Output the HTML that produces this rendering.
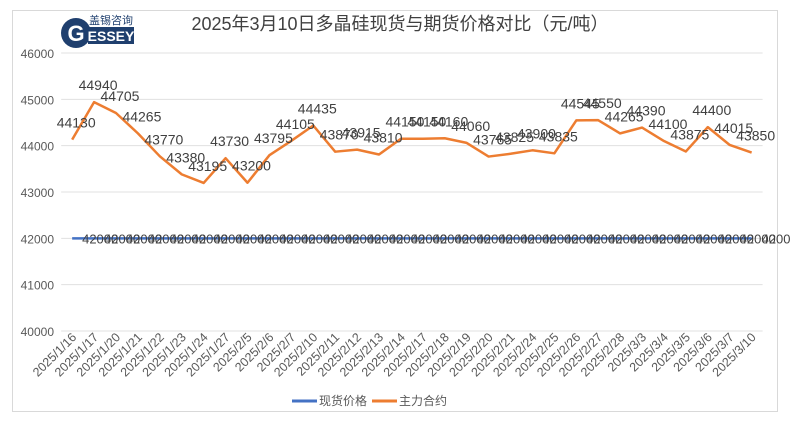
<!DOCTYPE html>
<html><head><meta charset="utf-8"><style>
body{margin:0;background:#fff;}
svg text{font-family:"Liberation Sans","Noto Sans CJK SC",sans-serif;}
</style></head><body>
<svg id="c" width="790" height="427">
<rect x="12.5" y="10.5" width="765" height="401" fill="#fff" stroke="#d9d9d9"/>
<g>
<circle cx="76" cy="33" r="15" fill="#1f3f6e"/>
<text x="76" y="41" font-size="22" font-weight="bold" fill="#fff" text-anchor="middle">G</text>
<rect x="88" y="27" width="46" height="17" fill="#1f3f6e"/>
<text x="111" y="41" font-size="14" font-weight="bold" fill="#fff" text-anchor="middle">ESSEY</text>
<text x="111" y="24" font-size="11" fill="#1f3f6e" text-anchor="middle">盖锡咨询</text>
</g>
<text x="400" y="30" font-size="18" fill="#404040" text-anchor="middle">2025年3月10日多晶硅现货与期货价格对比（元/吨）</text>
<g id="grid"></g><g id="series"></g><g id="labels"></g><g id="xaxis"></g>
<g>
<line x1="292" y1="401" x2="317" y2="401" stroke="#4472c4" stroke-width="3"/>
<text x="319" y="405" font-size="12" fill="#595959">现货价格</text>
<line x1="372" y1="401" x2="397" y2="401" stroke="#ed7d31" stroke-width="3"/>
<text x="399" y="405" font-size="12" fill="#595959">主力合约</text>
</g>
</svg>
<script>
const categories=["2025/1/16","2025/1/17","2025/1/20","2025/1/21","2025/1/22","2025/1/23","2025/1/24","2025/1/27","2025/2/5","2025/2/6","2025/2/7","2025/2/10","2025/2/11","2025/2/12","2025/2/13","2025/2/14","2025/2/17","2025/2/18","2025/2/19","2025/2/20","2025/2/21","2025/2/24","2025/2/25","2025/2/26","2025/2/27","2025/2/28","2025/3/3","2025/3/4","2025/3/5","2025/3/6","2025/3/7","2025/3/10"];
const futures=[44130,44940,44705,44265,43770,43380,43195,43730,43200,43795,44105,44435,43870,43915,43810,44150,44150,44160,44060,43765,43825,43900,43835,44545,44550,44265,44390,44100,43875,44400,44015,43850];
const spot=[42000,42000,42000,42000,42000,42000,42000,42000,42000,42000,42000,42000,42000,42000,42000,42000,42000,42000,42000,42000,42000,42000,42000,42000,42000,42000,42000,42000,42000,42000,42000,42000];
const yTicks=[40000,41000,42000,43000,44000,45000,46000];
const NS="http://www.w3.org/2000/svg";
const L=61.2,R=762.6,yMin=40000,yMax=46000,yTop=53,yBot=331;
const step=(R-L)/categories.length;
const x=i=>L+step*(i+0.5);
const y=v=>yBot-(v-yMin)/(yMax-yMin)*(yBot-yTop);
function mk(t,a,p){const e=document.createElementNS(NS,t);for(const k in a)e.setAttribute(k,a[k]);p.appendChild(e);return e;}
const grid=document.getElementById('grid');
yTicks.forEach(v=>{
 const l=mk('line',{x1:L,x2:R,y1:y(v),y2:y(v),stroke:'#e0e0e0','stroke-width':1},grid);
 
 
 const t=mk('text',{x:54,y:y(v)+5,'font-size':12,fill:'#595959','text-anchor':'end'},grid);
 t.textContent=v;
 
 
});
const ser=document.getElementById('series');
const sp=mk('polyline',{points:spot.map((v,i)=>x(i)+','+y(v)).join(' '),fill:'none',stroke:'#4472c4','stroke-width':2.5},ser);


const fu=mk('polyline',{points:futures.map((v,i)=>x(i)+','+y(v)).join(' '),fill:'none',stroke:'#ed7d31','stroke-width':2.5,'stroke-linejoin':'round'},ser);


const lab=document.getElementById('labels');
futures.forEach((v,i)=>{
 const t=mk('text',{x:x(i)+4,y:y(v)-12,'font-size':14,fill:'#404040','text-anchor':'middle'},lab);
 t.textContent=v;
 
 
});
spot.forEach((v,i)=>{
 const t=mk('text',{x:x(i)+10,y:y(v)+5,'font-size':13,fill:'#404040','textLength':36,'lengthAdjust':'spacingAndGlyphs'},lab);
 t.textContent=v;
 
 
});
const xa=document.getElementById('xaxis');
categories.forEach((c,i)=>{
 const t=mk('text',{x:x(i)+5,y:338,'font-size':12.5,fill:'#595959','text-anchor':'end',transform:`rotate(-45 ${x(i)+5} 338)`},xa);
 t.textContent=c;
 
 
});
</script>
</body></html>
